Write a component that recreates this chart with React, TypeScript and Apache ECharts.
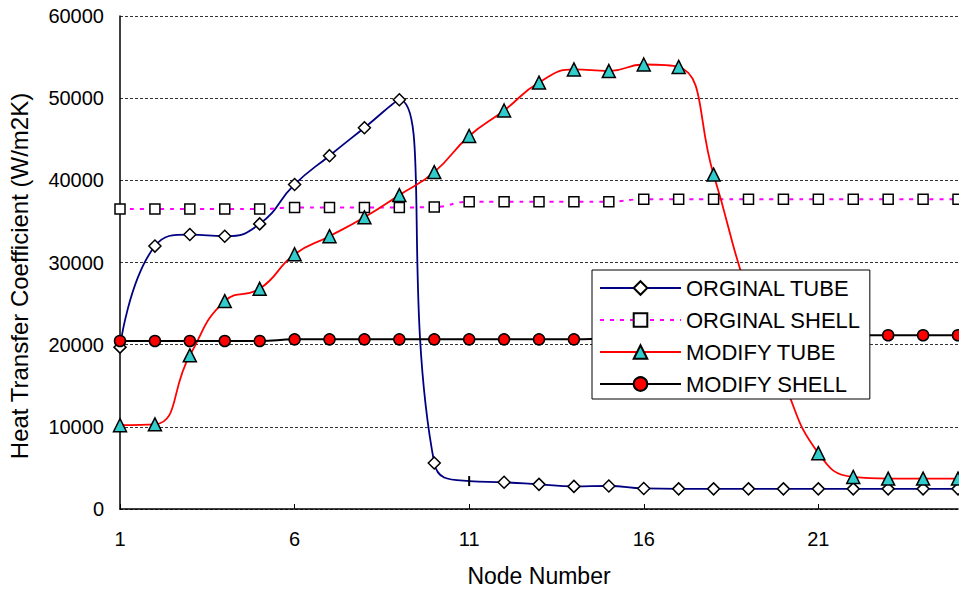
import React, { useEffect, useRef } from "react";
import * as echarts from "echarts";

const nodeLabels = [
  "1", "2", "3", "4", "5", "6", "7", "8", "9", "10", "11", "12", "13",
  "14", "15", "16", "17", "18", "19", "20", "21", "22", "23", "24", "25",
];

const orginalTube = [
  19700, 32000, 33400, 33200, 34700, 39500, 43000, 46400, 49800, 5600,
  3400, 3250, 3000, 2750, 2800, 2500, 2450, 2450, 2450, 2450, 2450, 2450,
  2450, 2450, 2450,
];

const orginalShell = [
  36500, 36500, 36500, 36500, 36500, 36700, 36700, 36700, 36700, 36750,
  37400, 37400, 37400, 37400, 37400, 37700, 37700, 37700, 37700, 37700,
  37700, 37700, 37700, 37700, 37700,
];

const modifyTube = [
  10200, 10300, 18700, 25300, 26800, 31000, 33200, 35500, 38200, 41000,
  45400, 48500, 51900, 53500, 53300, 54100, 53800, 40700, 26000, 15500,
  6800, 3900, 3700, 3700, 3700,
];

const modifyShell = [
  20450, 20450, 20450, 20450, 20450, 20650, 20650, 20650, 20650, 20650,
  20650, 20650, 20650, 20650, 20700, 20700, 20800, 20900, 21000, 21100,
  21150, 21150, 21150, 21150, 21150,
];

const seriesNames = ["ORGINAL TUBE", "ORGINAL SHELL", "MODIFY TUBE", "MODIFY SHELL"];
const yTitle = "Heat Transfer Coefficient (W/m2K)";
const xTitle = "Node Number";

const FONT = '"Liberation Sans", Arial, sans-serif';

export default function App() {
  const ref = useRef<HTMLDivElement>(null);

  useEffect(() => {
    document.body.style.margin = "0";
    if (!ref.current) return;
    const chart = echarts.init(ref.current, undefined, { renderer: "svg" });

    const tubeData = orginalTube.map((v, i) =>
      i === 10
        ? {
            value: v,
            symbol: "rect",
            symbolSize: [2, 10],
            itemStyle: { color: "#000", borderWidth: 0 },
          }
        : v
    );

    const smooth = 0.5;

    chart.setOption({
      animation: false,
      backgroundColor: "#fff",
      textStyle: { fontFamily: FONT },
      grid: { left: 120, right: 1, top: 16, bottom: 84, containLabel: false },
      graphic: [
        {
          type: "text",
          x: 19,
          y: 276,
          rotation: Math.PI / 2,
          style: {
            text: yTitle,
            fontSize: 24,
            fontFamily: FONT,
            fill: "#000",
            align: "center",
            verticalAlign: "middle",
            textAlign: "center",
            textVerticalAlign: "middle",
          },
        },
      ],
      legend: {
        data: seriesNames,
        orient: "vertical",
        left: 592,
        top: 270,
        itemWidth: 81,
        itemHeight: 17,
        itemGap: 10,
        padding: [7, 9, 4, 7],
        backgroundColor: "#fff",
        borderColor: "#000",
        borderWidth: 1,
        borderRadius: 0,
        textStyle: { fontSize: 22, color: "#000", fontFamily: FONT },
      },
      xAxis: {
        type: "category",
        data: nodeLabels,
        boundaryGap: false,
        name: xTitle,
        nameLocation: "middle",
        nameGap: 55,
        nameTextStyle: { fontSize: 23, color: "#000", fontFamily: FONT },
        axisLine: { lineStyle: { color: "#000", width: 1.5 } },
        axisTick: { show: true, inside: true, length: 5, interval: 4, lineStyle: { color: "#000", width: 1 } },
        axisLabel: { interval: 4, fontSize: 20, color: "#000", margin: 20, fontFamily: FONT },
        splitLine: { show: false },
      },
      yAxis: {
        type: "value",
        min: 0,
        max: 60000,
        interval: 10000,
        axisLine: { show: true, lineStyle: { color: "#000", width: 1.5 } },
        axisTick: { show: false },
        axisLabel: {
          fontSize: 20,
          color: "#000",
          margin: 16,
          fontFamily: FONT,
          formatter: (v: number) => String(v),
        },
        splitLine: { show: true, lineStyle: { color: "#333", type: [3, 2], width: 1 } },
      },
      series: [
        {
          name: seriesNames[0],
          type: "line",
          data: tubeData,
          smooth,
          showAllSymbol: true,
          symbol: "diamond",
          symbolSize: 12,
          itemStyle: { color: "#fff", borderColor: "#000", borderWidth: 1.5 },
          lineStyle: { color: "#000080", width: 1.8 },
        },
        {
          name: seriesNames[1],
          type: "line",
          data: orginalShell,
          smooth,
          showAllSymbol: true,
          symbol: "rect",
          symbolSize: 10,
          itemStyle: { color: "#fff", borderColor: "#000", borderWidth: 1.5 },
          lineStyle: { color: "#FF00FF", width: 2, type: [4, 6] },
        },
        {
          name: seriesNames[2],
          type: "line",
          data: modifyTube,
          smooth,
          showAllSymbol: true,
          symbol: "triangle",
          symbolSize: 13,
          itemStyle: { color: "#33CCCC", borderColor: "#000", borderWidth: 1.5 },
          lineStyle: { color: "#FF0000", width: 1.8 },
        },
        {
          name: seriesNames[3],
          type: "line",
          data: modifyShell,
          smooth,
          showAllSymbol: true,
          symbol: "circle",
          symbolSize: 11,
          itemStyle: { color: "#FF0000", borderColor: "#000", borderWidth: 1.5 },
          lineStyle: { color: "#000", width: 2 },
        },
      ],
    });

    return () => chart.dispose();
  }, []);

  return <div ref={ref} style={{ width: 959, height: 593 }} />;
}
